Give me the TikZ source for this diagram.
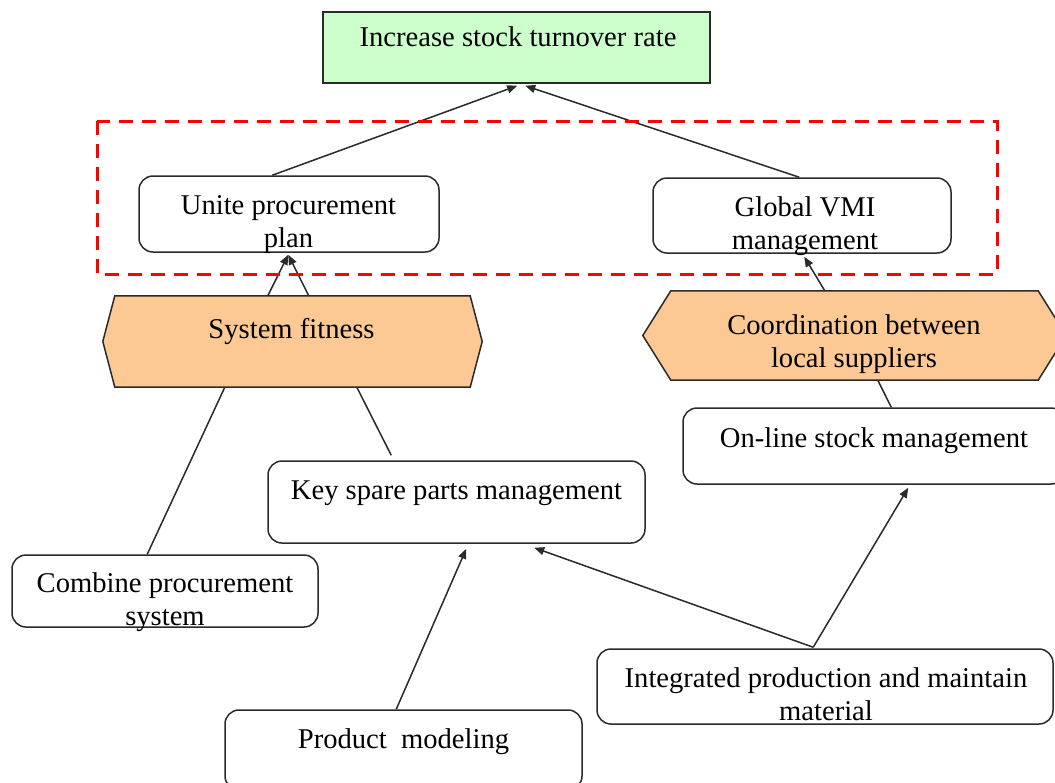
\documentclass[tikz,border=0pt]{standalone}
\usepackage{fontspec}
\setmainfont{Liberation Serif}
\usetikzlibrary{arrows.meta,calc}
\definecolor{goalgreen}{HTML}{CCFFCC}
\definecolor{peach}{HTML}{FCC995}
\definecolor{edge}{HTML}{2A2A2A}
\begin{document}
\begin{tikzpicture}[x=1pt,y=1pt,
  box/.style={draw=edge, line width=1.5pt, rounded corners=14pt, inner sep=0pt, fill=white},
  goalbox/.style={draw=edge, line width=1.5pt, inner sep=0pt, fill=goalgreen},
  hexbody/.style={inner sep=0pt},
  hexfill/.style={draw=edge, line width=1.5pt, fill=peach, line join=miter},
  lbl/.style={anchor=north, inner sep=0pt, align=center,
    font=\fontsize{28.6pt}{33pt}\selectfont},
  link/.style={draw=edge, line width=1.5pt},
  arr/.style={link, -{Triangle[length=10pt,width=8pt]}},
  group/.style={draw=red, line width=3pt, dash pattern=on 14pt off 9pt},
]
\useasboundingbox (0,0) rectangle (1055,-782);
\fill[white] (0,0) rectangle (1055,-782);
\clip (0,0) rectangle (1055,-782);

% goal
\node[goalbox, minimum width=387pt, minimum height=71pt] (goal) at (516.5,-47.5) {};
\node[lbl] (goal-t) at (518,-26.5) {Increase stock turnover rate};

% strategy boxes
\node[box, minimum width=300pt, minimum height=76pt] (unite) at (289,-214) {};
\node[lbl] (unite-t) at (288.5,-195) {Unite procurement\\plan};
\node[box, minimum width=298pt, minimum height=75pt] (global) at (802,-215.5) {};
\node[lbl] (global-t) at (805,-196.5) {Global VMI\\management};

% hexagonal factors
\node[hexbody, minimum width=355pt, minimum height=91pt] (fit) at (292.5,-341.5) {};
\draw[hexfill] ([xshift=-12pt]fit.west) -- (fit.north west) -- (fit.north east)
  -- ([xshift=12pt]fit.east) -- (fit.south east) -- (fit.south west) -- cycle;
\node[lbl] (fit-t) at (291.5,-318.5) {System fitness};

\node[hexbody, minimum width=367pt, minimum height=89pt] (coord) at (854.5,-335.5) {};
\draw[hexfill] ([xshift=-28pt]coord.west) -- (coord.north west) -- (coord.north east)
  -- ([xshift=28pt]coord.east) -- (coord.south east) -- (coord.south west) -- cycle;
\node[lbl] (coord-t) at (854,-314.5) {Coordination between\\local suppliers};

% lower boxes
\node[box, minimum width=382pt, minimum height=76pt] (online) at (874,-446) {};
\node[lbl] (online-t) at (874,-427.5) {On-line stock management};
\node[box, minimum width=377pt, minimum height=82pt] (key) at (456.5,-502) {};
\node[lbl] (key-t) at (456.5,-480.5) {Key spare parts management};
\node[box, minimum width=306pt, minimum height=72pt] (combine) at (165,-591) {};
\node[lbl] (combine-t) at (165,-572.5) {Combine procurement\\system};
\node[box, minimum width=456pt, minimum height=75pt] (integ) at (825,-686.5) {};
\node[lbl] (integ-t) at (826,-667.5) {Integrated production and maintain\\material};
\node[box, minimum width=357pt, minimum height=80pt] (product) at (403.5,-750) {};
\node[lbl] (product-t) at (403.5,-728.5) {Product\ \ modeling};

% connectors
\draw[arr] ([xshift=134pt]unite.north west) -- ([xshift=195pt,yshift=-2pt]goal.south west);
\draw[arr] ([xshift=147pt]global.north west) -- ([xshift=203pt,yshift=-2pt]goal.south west);
\draw[arr] ([xshift=153pt]fit.north west) -- ([xshift=150pt,yshift=-2pt]unite.south west);
\draw[arr] ([xshift=194pt]fit.north west) -- ([xshift=150pt,yshift=-2pt]unite.south west);
\draw[arr] ([xshift=154pt]coord.north west) -- ([xshift=152pt,yshift=-3pt]global.south west);
\draw[link] ([xshift=110pt]fit.south west) -- ([xshift=136pt]combine.north west);
\draw[link] ([xshift=242pt]fit.south west) -- ([xshift=124pt,yshift=5pt]key.north west);
\draw[link] ([xshift=209pt]online.north west) -- ([xshift=207pt]coord.south west);
\draw[arr] ([xshift=172pt]product.north west) -- ([xshift=199pt,yshift=-5pt]key.south west);
\draw[arr] ([xshift=217pt,yshift=1pt]integ.north west) -- ([xshift=267pt,yshift=-4pt]key.south west);
\draw[arr] ([xshift=217pt,yshift=1pt]integ.north west) -- ([xshift=226pt,yshift=-3pt]online.south west);

% grouping frame
\draw[group] (97,-121) rectangle (997,-274);
\end{tikzpicture}
\end{document}
